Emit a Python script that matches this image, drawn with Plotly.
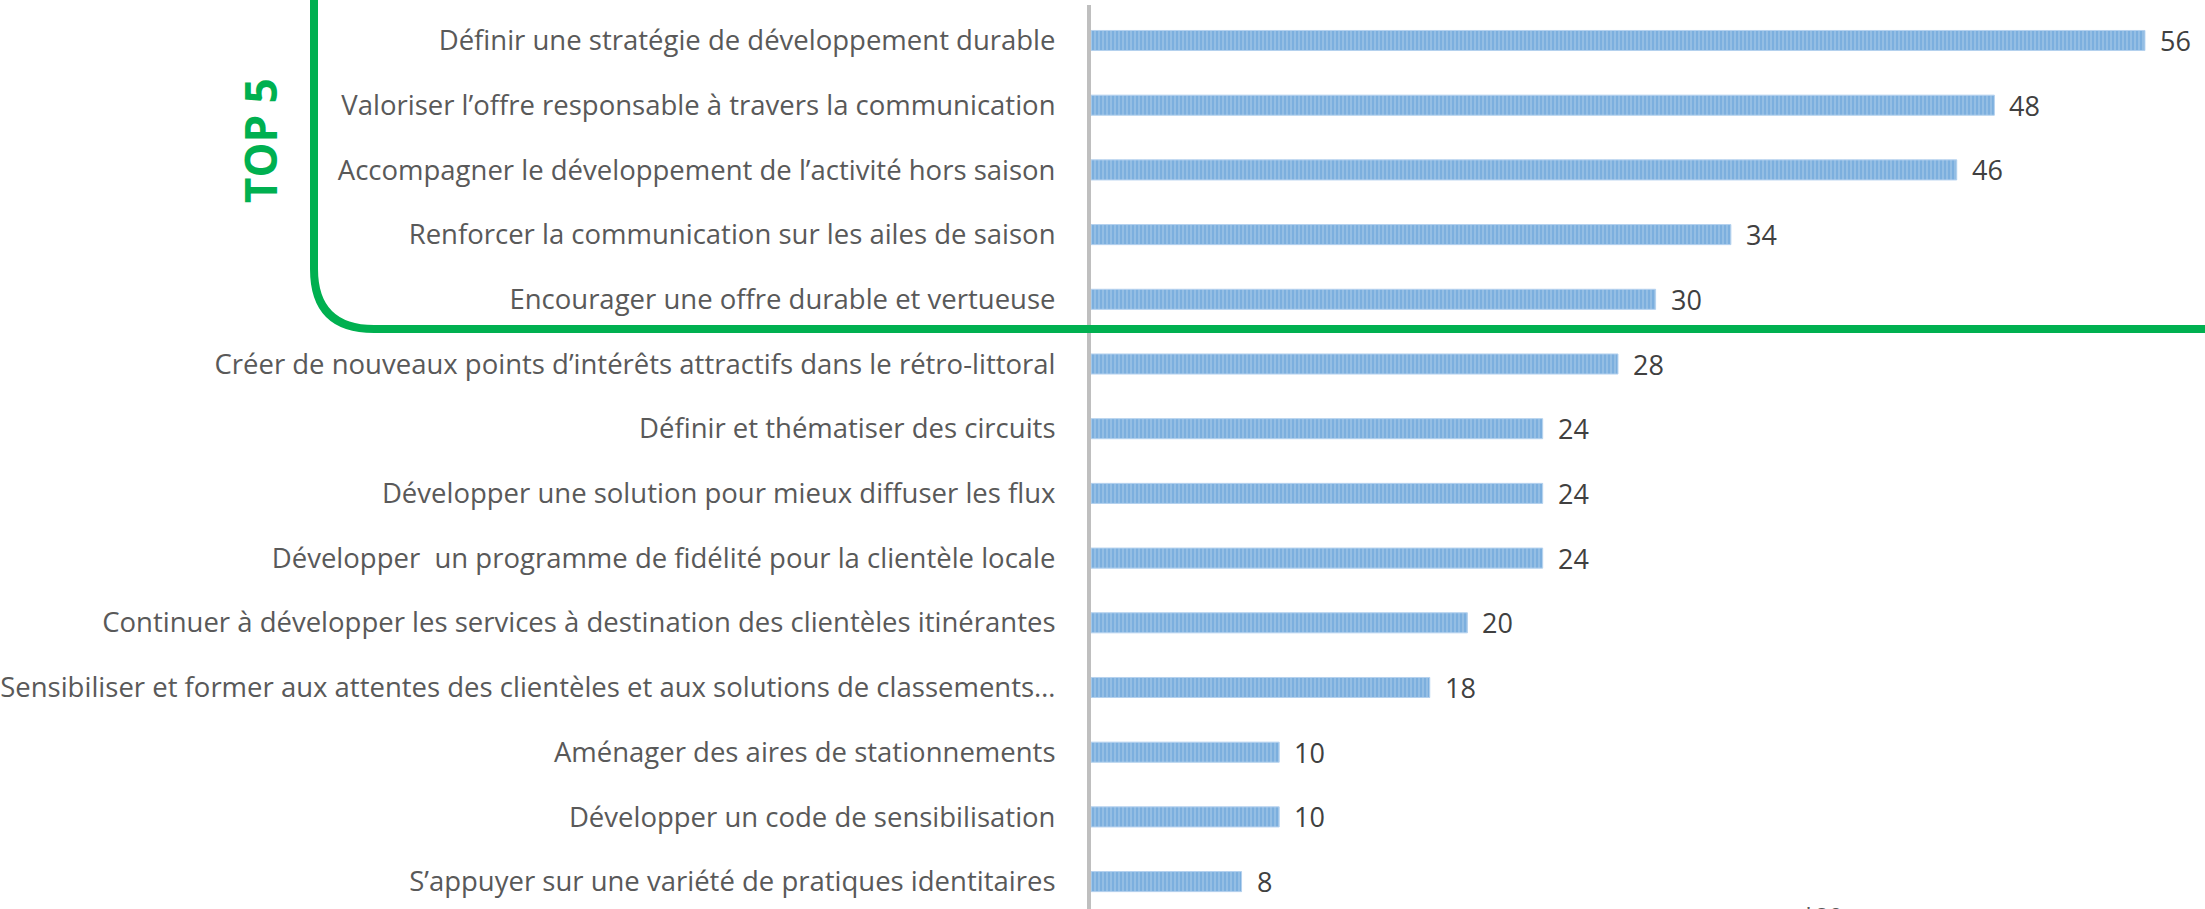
import plotly.graph_objects as go

categories = [
    "Définir une stratégie de développement durable",
    "Valoriser l’offre responsable à travers la communication",
    "Accompagner le développement de l’activité hors saison",
    "Renforcer la communication sur les ailes de saison",
    "Encourager une offre durable et vertueuse",
    "Créer de nouveaux points d’intérêts attractifs dans le rétro-littoral",
    "Définir et thématiser des circuits",
    "Développer une solution pour mieux diffuser les flux",
    "Développer  un programme de fidélité pour la clientèle locale",
    "Continuer à développer les services à destination des clientèles itinérantes",
    "Sensibiliser et former aux attentes des clientèles et aux solutions de classements…",
    "Aménager des aires de stationnements",
    "Développer un code de sensibilisation",
    "S’appuyer sur une variété de pratiques identitaires",
]
values = [56, 48, 46, 34, 30, 28, 24, 24, 24, 20, 18, 10, 10, 8]
highlight_label = "TOP 5"
footnote = "*20"

W, H = 2205, 909
ML, MT = 1091, 5
PW, PH = W - ML, H - MT
PX_PER_UNIT = 18.82
CAT_PX = 64.7


def px(x, y):
    return (x - ML) / PW, (H - y) / PH


fig = go.Figure()
fig.add_trace(go.Bar(
    x=values,
    y=list(range(len(categories))),
    orientation="h",
    width=0.31,
    marker=dict(
        color="#9DC3E6",
        line=dict(color="#B4D1EE", width=1),
        pattern=dict(shape="|", fgcolor="#5B9BD5", bgcolor="#9DC3E6",
                     size=4, solidity=0.65, fillmode="overlay"),
    ),
    hoverinfo="skip",
))

for i, v in enumerate(values):
    fig.add_annotation(x=v, y=i, text=str(v), showarrow=False,
                       xanchor="left", yanchor="middle", xshift=13,
                       font=dict(family="Open Sans", size=27, color="#404040"))

top_r = -(40.5 - MT) / CAT_PX
bot_r = top_r + PH / CAT_PX

fig.update_layout(
    width=W, height=H,
    margin=dict(l=ML, r=0, t=MT, b=0),
    paper_bgcolor="white", plot_bgcolor="white",
    showlegend=False,
    font=dict(family="Open Sans", color="#595959"),
    xaxis=dict(range=[0, PW / PX_PER_UNIT], visible=False, showgrid=False,
               zeroline=False),
    yaxis=dict(
        range=[bot_r, top_r],
        tickmode="array",
        tickvals=list(range(len(categories))),
        ticktext=categories,
        tickfont=dict(family="Open Sans", size=27.5, color="#595959"),
        showline=True, linecolor="#BFBFBF", linewidth=4,
        showgrid=False, zeroline=False, ticks="",
        ticklabelstandoff=26,
    ),
)

# Green rounded bracket around top 5
left, right, top, bottom, r = 314, 2262, -60, 329, 60
pts = {
    "a": px(left, top), "b": px(left, bottom - r), "c": px(left, bottom),
    "d": px(left + r, bottom), "e": px(right - r, bottom), "f": px(right, bottom),
    "g": px(right, bottom - r), "h": px(right, top),
}
path = ("M {a[0]},{a[1]} L {b[0]},{b[1]} Q {c[0]},{c[1]} {d[0]},{d[1]} "
        "L {e[0]},{e[1]} Q {f[0]},{f[1]} {g[0]},{g[1]} L {h[0]},{h[1]}").format(**pts)
fig.add_shape(type="path", path=path, xref="paper", yref="paper",
              line=dict(color="#00B050", width=8), layer="above")

tx, ty = px(260, 141)
fig.add_annotation(x=tx, y=ty, xref="paper", yref="paper", text=f"<b>{highlight_label}</b>",
                   textangle=-90, showarrow=False, xanchor="center", yanchor="middle",
                   font=dict(family="Open Sans", size=44, color="#00B050"))

fx, fy = px(1822, 915)
fig.add_annotation(x=fx, y=fy, xref="paper", yref="paper", text=footnote,
                   showarrow=False, xanchor="center", yanchor="middle",
                   font=dict(family="Open Sans", size=24, color="#595959"))

fig.write_html("out.html", config={"displayModeBar": False},
               post_script="document.body.style.margin='0';")
